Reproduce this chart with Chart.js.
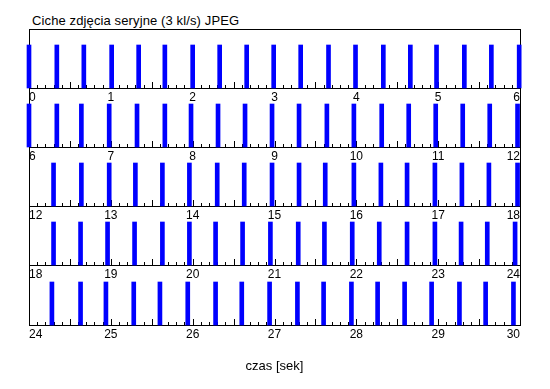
<!DOCTYPE html>
<html>
<head>
<meta charset="utf-8">
<script src="https://cdn.jsdelivr.net/npm/chart.js@4"></script>
<style>
  body { margin: 0; background: #fff; }
  #wrap { position: relative; width: 550px; height: 389px; }
  #wrap canvas { position: absolute; left: 0; }
  #title { position: absolute; left: 32px; top: 13px; font: 13px/15px Arial, "Liberation Sans", sans-serif; letter-spacing: 0.12px; color: #000; white-space: nowrap; }
</style>
</head>
<body>
<div id="wrap">
  <div id="title">Ciche zdjęcia seryjne (3 kl/s) JPEG</div>
</div>
<script>
// start of each 6 s strip
const rowStarts = [0, 6, 12, 18, 24];

// shot times [s]
const shotsRow1 = [0, 0.34, 0.67, 1.01, 1.34, 1.66, 2.0, 2.33, 2.66, 2.99, 3.32, 3.66, 3.99, 4.33, 4.66, 4.98, 5.32, 5.65, 5.99];
const shotsRow2 = [6.0, 6.34, 6.64, 6.98, 7.32, 7.66, 7.98, 8.31, 8.64, 8.97, 9.30, 9.64, 9.97, 10.31, 10.64, 10.97, 11.30, 11.63, 11.97];
const shotsRow3 = [12.30, 12.64, 12.98, 13.30, 13.63, 13.96, 14.30, 14.63, 14.97, 15.30, 15.62, 15.97, 16.30, 16.62, 16.96, 17.29, 17.62, 17.97];
const shotsRow4 = [18.30, 18.63, 18.96, 19.29, 19.63, 19.96, 20.28, 20.61, 20.95, 21.29, 21.61, 21.95, 22.28, 22.62, 22.96, 23.28, 23.60, 23.94];
const shotsRow5 = [24.28, 24.63, 24.94, 25.28, 25.60, 25.94, 26.28, 26.60, 26.94, 27.28, 27.60, 27.94, 28.26, 28.59, 28.92, 29.26, 29.58, 29.92];

const rows = [shotsRow1, shotsRow2, shotsRow3, shotsRow4, shotsRow5];

// layout of the strips (page pixels)
const axisY = [88, 147, 206, 265, 325];
const areaTop = [29, 88, 147, 206, 265];
const bandH = [22, 22, 22, 22, 64];
const barH = 43;

Chart.defaults.font.family = 'Arial, "Liberation Sans", sans-serif';
Chart.defaults.color = '#000';

// small ticks every 0.1 s, longer every 0.5 s, pointing up into the strip
const tickMarks = {
  id: 'tickMarks',
  beforeDatasetsDraw(chart) {
    const xs = chart.scales.x;
    const ctx = chart.ctx;
    const bottom = chart.chartArea.bottom;
    ctx.save();
    ctx.strokeStyle = '#000';
    ctx.lineWidth = 1;
    ctx.beginPath();
    for (let k = 0; k <= 60; k++) {
      const px = Math.round(xs.getPixelForValue(xs.min + k / 10)) + 0.5;
      const len = k % 5 === 0 ? 6 : 3;
      ctx.moveTo(px, bottom);
      ctx.lineTo(px, bottom - len);
    }
    ctx.stroke();
    ctx.restore();
  }
};

const wrap = document.getElementById('wrap');
const edge = { display: true, color: '#000', width: 1 };
const noGrid = { display: false, drawTicks: false };

rows.forEach((shots, i) => {
  const top = axisY[i] - 88;
  const height = 88 + bandH[i];
  const canvas = document.createElement('canvas');
  canvas.width = 550;
  canvas.height = height;
  canvas.style.top = top + 'px';
  wrap.appendChild(canvas);

  const areaH = axisY[i] - areaTop[i];
  const last = i === rows.length - 1;

  const scales = {
    x: {
      type: 'linear',
      min: rowStarts[i],
      max: rowStarts[i] + 6,
      offset: false,
      grid: { display: false, drawTicks: false, offset: false },
      border: edge,
      ticks: { stepSize: 1, align: 'inner', padding: 2, maxRotation: 0, autoSkip: false, font: { size: 12 } },
      title: { display: last, text: 'czas [sek]', font: { size: 13 }, padding: { top: 0, bottom: 15 } },
      afterFit: s => { s.height = bandH[i]; }
    },
    y: { min: 0, max: areaH / barH, display: true, ticks: { display: false }, grid: noGrid, border: edge },
    yr: { position: 'right', min: 0, max: 1, display: true, ticks: { display: false }, grid: noGrid, border: edge }
  };
  if (i === 0) {
    scales.xt = { type: 'linear', position: 'top', display: true, ticks: { display: false }, grid: noGrid, border: edge };
  }

  new Chart(canvas, {
    type: 'bar',
    data: {
      datasets: [{
        data: shots.map(t => ({ x: t, y: 1 })),
        backgroundColor: '#0000ff',
        borderWidth: 0,
        barThickness: 4,
        clip: false
      }]
    },
    options: {
      responsive: false,
      animation: false,
      devicePixelRatio: 1,
      layout: { padding: { top: areaTop[i] - top, left: 29, right: 30, bottom: 0 } },
      plugins: { legend: { display: false }, tooltip: { enabled: false } },
      scales: scales
    },
    plugins: [tickMarks]
  });
});
</script>
</body>
</html>
